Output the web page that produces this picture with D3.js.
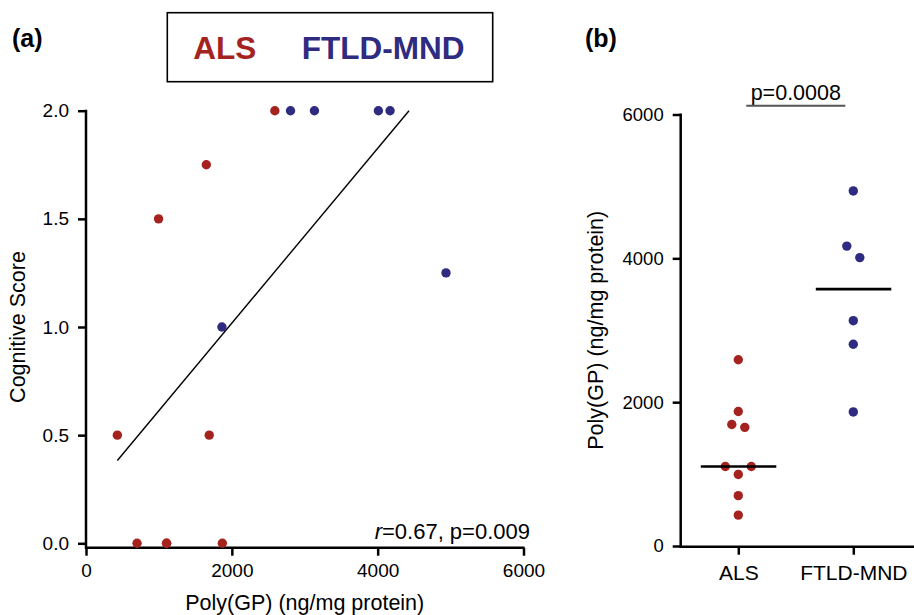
<!DOCTYPE html>
<html>
<head>
<meta charset="utf-8">
<script src="https://cdn.jsdelivr.net/npm/d3@7"></script>
<style>
  body { margin: 0; background: #fff; }
  svg text { font-family: "Liberation Sans", Arial, sans-serif; fill: #000; }
</style>
</head>
<body>
<div id="graphicContainer"></div>
<script>
// values
var groups = ["ALS", "FTLD-MND"]
var alsPoly = [2590, 1870, 1690, 1650, 1105, 995, 1105, 700, 430]
var alsScore = [2.0, 0, 0.5, 1.75, 0, 1.5, 0, 0, 0.5]
var ftldPoly = [4937, 4170, 4010, 3133, 2805, 1864]
var ftldScore = [1.25, 2.0, 2.0, 2.0, 2.0, 1.0]
var scoreTicks = [0, 0.5, 1.0, 1.5, 2.0]
var polyTicksA = [0, 2000, 4000, 6000]
var polyTicksB = [0, 2000, 4000, 6000]
var statA = "=0.67, p=0.009"
var statB = "p=0.0008"

var red = "#a5231f", blue = "#2e2b80"
var colours = {"ALS": red, "FTLD-MND": blue}

var width = 914, height = 615
var svg = d3.select("#graphicContainer").append("svg")
    .attr("width", width)
    .attr("height", height)

var rows = []
alsPoly.forEach((d, i) => rows.push({group: "ALS", poly: d, score: alsScore[i], idx: i}))
ftldPoly.forEach((d, i) => rows.push({group: "FTLD-MND", poly: d, score: ftldScore[i], idx: i}))

/// panel (a) - scatter
var xA = d3.scaleLinear().domain([0, 6000]).range([86, 523.5])
var yA = d3.scaleLinear().domain([0, 2]).range([543.3, 110.7])
var axisYA = 547.7

var gA = svg.append("g")

gA.append("g")
    .attr("transform", "translate(" + xA(0) + ",0)")
    .call(d3.axisLeft(yA).tickValues(scoreTicks).tickFormat(d3.format(".1f")).tickSize(8).tickPadding(9))
    .call(g => g.select(".domain").remove())
    .call(g => g.selectAll("text").style("font-size", "19px").style("font-family", "Liberation Sans, Arial, sans-serif"))
    .call(g => g.selectAll("line").attr("stroke-width", 2.5))

gA.append("line")
    .attr("x1", xA(0)).attr("x2", xA(0))
    .attr("y1", yA(2) - 1).attr("y2", axisYA + 1)
    .attr("stroke", "#000").attr("stroke-width", 2.5)

gA.append("g")
    .attr("transform", "translate(0," + axisYA + ")")
    .call(d3.axisBottom(xA).tickValues(polyTicksA).tickFormat(d3.format("d")).tickSize(8).tickPadding(8))
    .call(g => g.select(".domain").remove())
    .call(g => g.selectAll("text").style("font-size", "19px").style("font-family", "Liberation Sans, Arial, sans-serif"))
    .call(g => g.selectAll("line").attr("stroke-width", 2.5))

gA.append("line")
    .attr("x1", xA(0) - 1).attr("x2", xA(6000) + 1)
    .attr("y1", axisYA).attr("y2", axisYA)
    .attr("stroke", "#000").attr("stroke-width", 2.5)

// least squares line, clipped at the top of the score axis
var mx = d3.mean(rows, d => d.poly), my = d3.mean(rows, d => d.score)
var sxy = d3.sum(rows, d => (d.poly - mx) * (d.score - my))
var sxx = d3.sum(rows, d => (d.poly - mx) * (d.poly - mx))
var slope = sxy / sxx, icpt = my - slope * mx
var x0 = d3.min(rows, d => d.poly)
var x1 = Math.min(d3.max(rows, d => d.poly), (2 - icpt) / slope)

gA.append("line")
    .attr("x1", xA(x0)).attr("y1", yA(icpt + slope * x0))
    .attr("x2", xA(x1)).attr("y2", yA(icpt + slope * x1))
    .attr("stroke", "#000").attr("stroke-width", 1.4)

gA.append("g").selectAll("circle")
    .data(rows)
    .enter().append("circle")
    .attr("cx", d => xA(d.poly))
    .attr("cy", d => yA(d.score))
    .attr("r", 4.7)
    .attr("fill", d => colours[d.group])

var st = gA.append("text")
    .attr("x", 530).attr("y", 538.5)
    .attr("text-anchor", "end")
    .style("font-size", "22px")
st.append("tspan").style("font-style", "italic").text("r")
st.append("tspan").text(statA)

gA.append("text")
    .attr("x", (xA(0) + xA(6000)) / 2).attr("y", 610)
    .attr("text-anchor", "middle")
    .style("font-size", "21.5px")
    .text("Poly(GP) (ng/mg protein)")

gA.append("text")
    .attr("transform", "translate(25," + (yA(0) + yA(2)) / 2 + ") rotate(-90)")
    .attr("text-anchor", "middle")
    .style("font-size", "21.5px")
    .text("Cognitive Score")

gA.append("text")
    .attr("x", 12).attr("y", 46.5)
    .style("font-size", "25px").style("font-weight", "bold")
    .text("(a)")

// legend box
var leg = svg.append("g")
leg.append("rect")
    .attr("x", 167.3).attr("y", 12.7)
    .attr("width", 325.4).attr("height", 69)
    .attr("fill", "none").attr("stroke", "#000").attr("stroke-width", 1.6)
leg.append("text")
    .attr("x", 193.3).attr("y", 59.3)
    .style("font-size", "31.5px").style("font-weight", "bold")
    .style("fill", red)
    .text(groups[0])
leg.append("text")
    .attr("x", 301.7).attr("y", 59.3)
    .style("font-size", "31.5px").style("font-weight", "bold")
    .style("fill", blue)
    .text(groups[1])

/// panel (b) - dot plot with medians
var xB = d3.scalePoint().domain(groups).range([738.3, 853.3])
var yB = d3.scaleLinear().domain([0, 6000]).range([546, 114.5])
var axisXB = 680.7, axisYB = 546.7

var gB = svg.append("g")

gB.append("g")
    .attr("transform", "translate(" + axisXB + ",0)")
    .call(d3.axisLeft(yB).tickValues(polyTicksB).tickFormat(d3.format("d")).tickSize(8).tickPadding(9))
    .call(g => g.select(".domain").remove())
    .call(g => g.selectAll("text").style("font-size", "18.5px").style("font-family", "Liberation Sans, Arial, sans-serif"))
    .call(g => g.selectAll("line").attr("stroke-width", 2.5))

gB.append("line")
    .attr("x1", axisXB).attr("x2", axisXB)
    .attr("y1", yB(6000) - 1).attr("y2", axisYB + 1)
    .attr("stroke", "#000").attr("stroke-width", 2.5)

gB.append("g")
    .attr("transform", "translate(0," + axisYB + ")")
    .call(d3.axisBottom(xB).tickSize(8).tickPadding(10))
    .call(g => g.select(".domain").remove())
    .call(g => g.selectAll("text").style("font-size", "21px").style("font-family", "Liberation Sans, Arial, sans-serif"))
    .call(g => g.selectAll("line").attr("stroke-width", 2.5))

gB.append("line")
    .attr("x1", axisXB - 1).attr("x2", width)
    .attr("y1", axisYB).attr("y2", axisYB)
    .attr("stroke", "#000").attr("stroke-width", 2.5)

// simple swarm: points closer than ~a dot apart spread sideways, in data order
var step = 13, near = 12
groups.forEach(function(gname) {
    var pts = rows.filter(d => d.group == gname).sort((a, b) => a.poly - b.poly)
    var clusters = [], cur = []
    pts.forEach(function(p) {
        if (cur.length && Math.abs(yB(p.poly) - yB(cur[cur.length - 1].poly)) >= near) {
            clusters.push(cur); cur = []
        }
        cur.push(p)
    })
    if (cur.length) clusters.push(cur)
    clusters.forEach(function(c) {
        c.sort((a, b) => a.idx - b.idx)
        c.forEach((p, i) => p.dx = (i - (c.length - 1) / 2) * step)
    })
})

gB.append("g").selectAll("circle")
    .data(rows)
    .enter().append("circle")
    .attr("cx", d => xB(d.group) + d.dx)
    .attr("cy", d => yB(d.poly))
    .attr("r", 4.7)
    .attr("fill", d => colours[d.group])

var medians = groups.map(g => ({group: g, value: d3.median(rows.filter(d => d.group == g), d => d.poly)}))

gB.append("g").selectAll("line")
    .data(medians)
    .enter().append("line")
    .attr("x1", d => xB(d.group) - 37.5)
    .attr("x2", d => xB(d.group) + 38)
    .attr("y1", d => yB(d.value))
    .attr("y2", d => yB(d.value))
    .attr("stroke", "#000").attr("stroke-width", 2.6)

var mid = (xB(groups[0]) + xB(groups[1])) / 2
gB.append("text")
    .attr("x", mid).attr("y", 100)
    .attr("text-anchor", "middle")
    .style("font-size", "21.5px")
    .text(statB)
gB.append("line")
    .attr("x1", mid - 49.5).attr("x2", mid + 49.5)
    .attr("y1", 105.7).attr("y2", 105.7)
    .attr("stroke", "#555").attr("stroke-width", 2)

gB.append("text")
    .attr("transform", "translate(603," + (yB(0) + yB(6000)) / 2 + ") rotate(-90)")
    .attr("text-anchor", "middle")
    .style("font-size", "21.5px")
    .text("Poly(GP) (ng/mg protein)")

gB.append("text")
    .attr("x", 585).attr("y", 46.5)
    .style("font-size", "25px").style("font-weight", "bold")
    .text("(b)")
</script>
</body>
</html>
